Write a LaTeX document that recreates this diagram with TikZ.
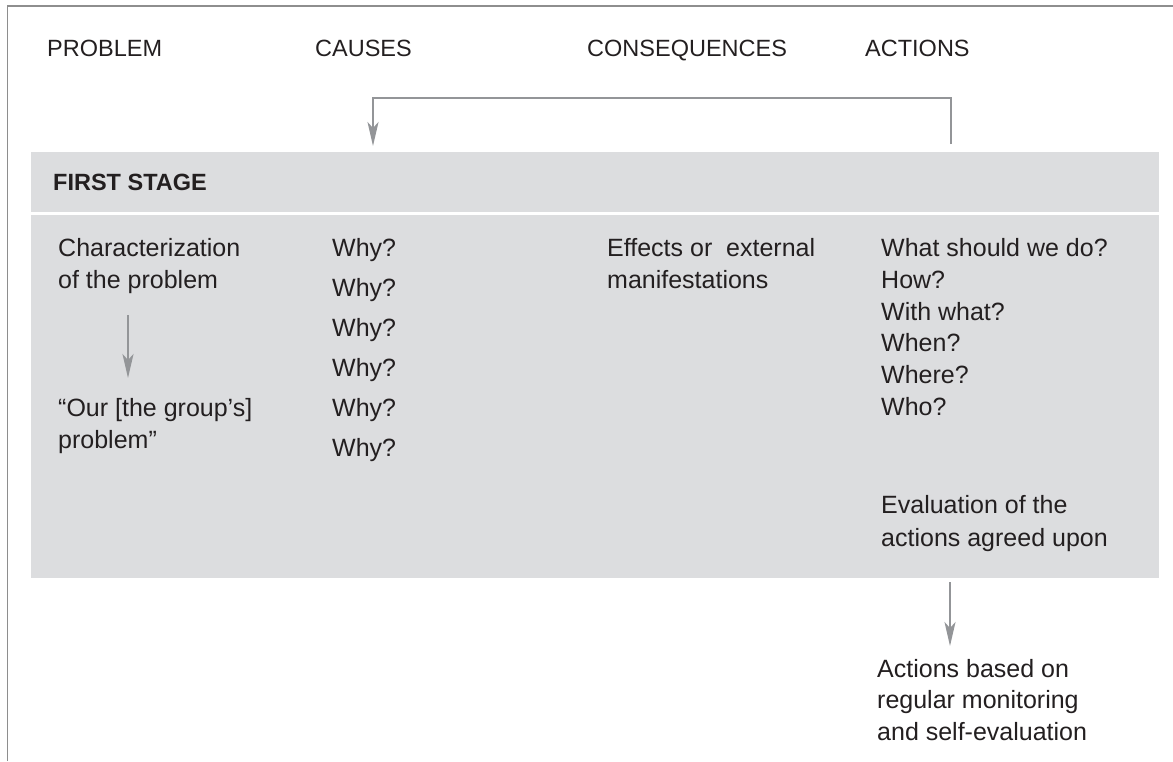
\documentclass[tikz,border=0pt]{standalone}
\usepackage{fontspec}
\setmainfont{Liberation Sans}
\usetikzlibrary{arrows.meta}
\definecolor{band}{HTML}{DCDDDF}
\definecolor{ink}{HTML}{231F20}
\definecolor{rulegray}{HTML}{939598}
\definecolor{framegray}{HTML}{8E8E8E}

\begin{document}
\begin{tikzpicture}[x=1pt,y=-1pt,
  txt/.style={anchor=base west, inner sep=0pt, text=ink, font=\fontsize{25}{30}\selectfont},
  headtxt/.style={txt, font=\fontsize{23.5}{28}\selectfont},
  stagetitle/.style={txt, font=\fontsize{23.5}{28}\selectfont\bfseries},
  link/.style={draw=rulegray, line width=2pt},
  arr/.style={link, -{Stealth[length=24pt,width=11pt,inset=6pt]}},
]
\useasboundingbox (0,0) rectangle (1173,761);

% outer frame: left and top edges only
\draw[framegray, line width=1.6pt] (7.5,761) -- (7.5,6) -- (1173,6);

% grey bands: stage title and stage body
\fill[band] (31,152) rectangle (1159,212);
\fill[band] (31,215) rectangle (1159,578);

% column headings
\node[headtxt] (hprob) at (47,56.5) {PROBLEM};
\node[headtxt] (hcaus) at (315,56.5) {CAUSES};
\node[headtxt] (hcons) at (587,56.5) {CONSEQUENCES};
\node[headtxt] (hact)  at (865,56.5) {ACTIONS};

% feedback loop from actions back to causes
\coordinate (fbstart) at (951,144);
\coordinate (fbend) at (373,146);
\draw[arr] (fbstart) -- (fbstart |- 0,98) -- (fbend |- 0,98) -- (fbend);

% stage title
\node[stagetitle] (stage) at (53,190) {FIRST STAGE};

% problem column
\node[txt] (prob1) at (58,256.5) {Characterization};
\node[txt] (prob2) at (58,288) {of the problem};
\node[txt] (prob3) at (58,416.5) {“Our [the group’s]};
\node[txt] (prob4) at (58,448) {problem”};
\coordinate (probA) at (128,315);
\coordinate (probB) at (128,378);
\draw[arr] (probA) -- (probB);

% causes column
\foreach \i in {0,...,5}
  \node[txt] (why\i) at (332,256.5+40*\i) {Why?};

% consequences column
\node[txt] (cons1) at (607,256.5) {Effects or\ \ external};
\node[txt] (cons2) at (607,288.5) {manifestations};

% actions column
\node[txt] (act1) at (881,256.5) {What should we do?};
\node[txt] (act2) at (881,288.3) {How?};
\node[txt] (act3) at (881,320.1) {With what?};
\node[txt] (act4) at (881,351.9) {When?};
\node[txt] (act5) at (881,383.7) {Where?};
\node[txt] (act6) at (881,415.5) {Who?};
\node[txt] (eval1) at (881,513.3) {Evaluation of the};
\node[txt] (eval2) at (881,546) {actions agreed upon};

% follow-up below the stage
\coordinate (evalA) at (950,582);
\coordinate (evalB) at (950,646);
\draw[arr] (evalA) -- (evalB);
\node[txt] (next1) at (877,677) {Actions based on};
\node[txt] (next2) at (877,708.5) {regular monitoring};
\node[txt] (next3) at (877,740) {and self-evaluation};
\end{tikzpicture}
\end{document}
